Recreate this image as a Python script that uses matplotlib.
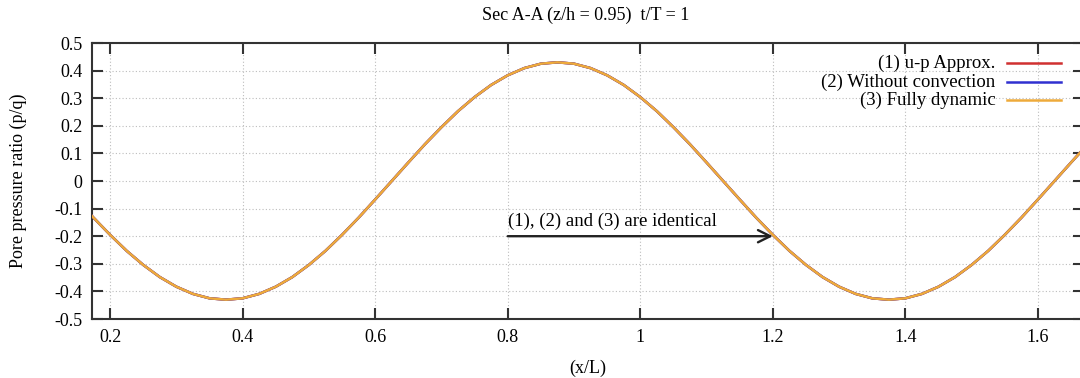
import matplotlib
matplotlib.use("Agg")
import matplotlib.pyplot as plt
from matplotlib.lines import Line2D

plt.rcParams['font.family'] = ['Liberation Serif', 'DejaVu Serif']
plt.rcParams['axes.unicode_minus'] = False

# Data (the three solutions coincide)
x_over_L = [0.125, 0.150, 0.175, 0.200, 0.225, 0.250, 0.275, 0.300, 0.325, 0.350,
            0.375, 0.400, 0.425, 0.450, 0.475, 0.500, 0.525, 0.550, 0.575, 0.600,
            0.625, 0.650, 0.675, 0.700, 0.725, 0.750, 0.775, 0.800, 0.825, 0.850,
            0.875, 0.900, 0.925, 0.950, 0.975, 1.000, 1.025, 1.050, 1.075, 1.100,
            1.125, 1.150, 1.175, 1.200, 1.225, 1.250, 1.275, 1.300, 1.325, 1.350,
            1.375, 1.400, 1.425, 1.450, 1.475, 1.500, 1.525, 1.550, 1.575, 1.600,
            1.625, 1.650, 1.675, 1.700, 1.725]
fully_dynamic = [0.000, -0.067, -0.133, -0.195, -0.253, -0.304, -0.348, -0.383, -0.409, -0.425,
                 -0.430, -0.425, -0.409, -0.383, -0.348, -0.304, -0.253, -0.195, -0.133, -0.067,
                 0.000, 0.067, 0.133, 0.195, 0.253, 0.304, 0.348, 0.383, 0.409, 0.425,
                 0.430, 0.425, 0.409, 0.383, 0.348, 0.304, 0.253, 0.195, 0.133, 0.067,
                 0.000, -0.067, -0.133, -0.195, -0.253, -0.304, -0.348, -0.383, -0.409, -0.425,
                 -0.430, -0.425, -0.409, -0.383, -0.348, -0.304, -0.253, -0.195, -0.133, -0.067,
                 0.000, 0.067, 0.133, 0.195, 0.253]
up_approx = list(fully_dynamic)           # identical to (3) in the picture
without_convection = list(fully_dynamic)  # identical to (3) in the picture

series_labels = ['(1) u-p Approx.', '(2) Without convection', '(3) Fully dynamic']
series_colors = ['#d03030', '#3030d0', '#eeaa3a']

x_ticks = [0.2, 0.4, 0.6, 0.8, 1.0, 1.2, 1.4, 1.6]
x_tick_labels = ['0.2', '0.4', '0.6', '0.8', '1', '1.2', '1.4', '1.6']
y_ticks = [0.5, 0.4, 0.3, 0.2, 0.1, 0.0, -0.1, -0.2, -0.3, -0.4, -0.5]
y_tick_labels = ['0.5', '0.4', '0.3', '0.2', '0.1', '0', '-0.1', '-0.2', '-0.3', '-0.4', '-0.5']

fig = plt.figure(figsize=(10.8, 3.78), dpi=100)
ax = fig.add_axes([92/1080, 1 - 319/378, 1.004 - 92/1080, (319 - 43)/378])

ax.set_xlim(0.1727, 1.67)
ax.set_ylim(-0.5, 0.5)

for ys, c in zip([up_approx, without_convection, fully_dynamic], series_colors):
    ax.plot(x_over_L, ys, color=c, lw=1.8, zorder=3)

ax.set_xticks(x_ticks)
ax.set_xticklabels(x_tick_labels)
ax.set_yticks(y_ticks)
ax.set_yticklabels(y_tick_labels)
ax.tick_params(direction='in', length=8, width=1.5, color='#333333',
               top=True, right=True, labelsize=13, pad=7)
for s in ax.spines.values():
    s.set_color('#333333')
    s.set_linewidth(1.5)

ax.grid(True, color='#bdbdbd', lw=0.8, linestyle=(0, (1, 2)), zorder=0)

# legend box (opaque, like gnuplot's)
ax.add_patch(plt.Rectangle((0.662, 0.755), 0.35, 0.25, transform=ax.transAxes,
                           facecolor='white', edgecolor='none', zorder=1))
leg_y = [63, 82, 100]
for lab, c, py in zip(series_labels, series_colors, leg_y):
    yy = (319 - py) / (319 - 43)
    ax.text((995 - 92) / 992, yy, lab, transform=ax.transAxes,
            ha='right', va='center', fontsize=13.5, zorder=4)
    ax.add_line(Line2D([(1007 - 92) / 992, (1061 - 92) / 992], [yy, yy],
                       transform=ax.transAxes, color=c, lw=1.8, zorder=4))

ax.annotate('', xy=(1.2, -0.2), xytext=(0.8, -0.2),
            arrowprops=dict(arrowstyle='->', color='#222222', lw=1.7,
                            mutation_scale=22, shrinkA=0, shrinkB=0), zorder=4)
ax.text(0.8, -0.178, '(1), (2) and (3) are identical', ha='left', va='bottom',
        fontsize=13.5, zorder=4)

ax.set_xlabel('(x/L)', fontsize=13, labelpad=10)
fig.text(18/1080, 1 - 181/378, 'Pore pressure ratio (p/q)', rotation=90,
         ha='center', va='center', fontsize=13)
fig.text(586/1080, 1 - 15/378, 'Sec A-A (z/h = 0.95)  t/T = 1', ha='center',
         va='center', fontsize=13)

fig.savefig('out.png', dpi=100)
